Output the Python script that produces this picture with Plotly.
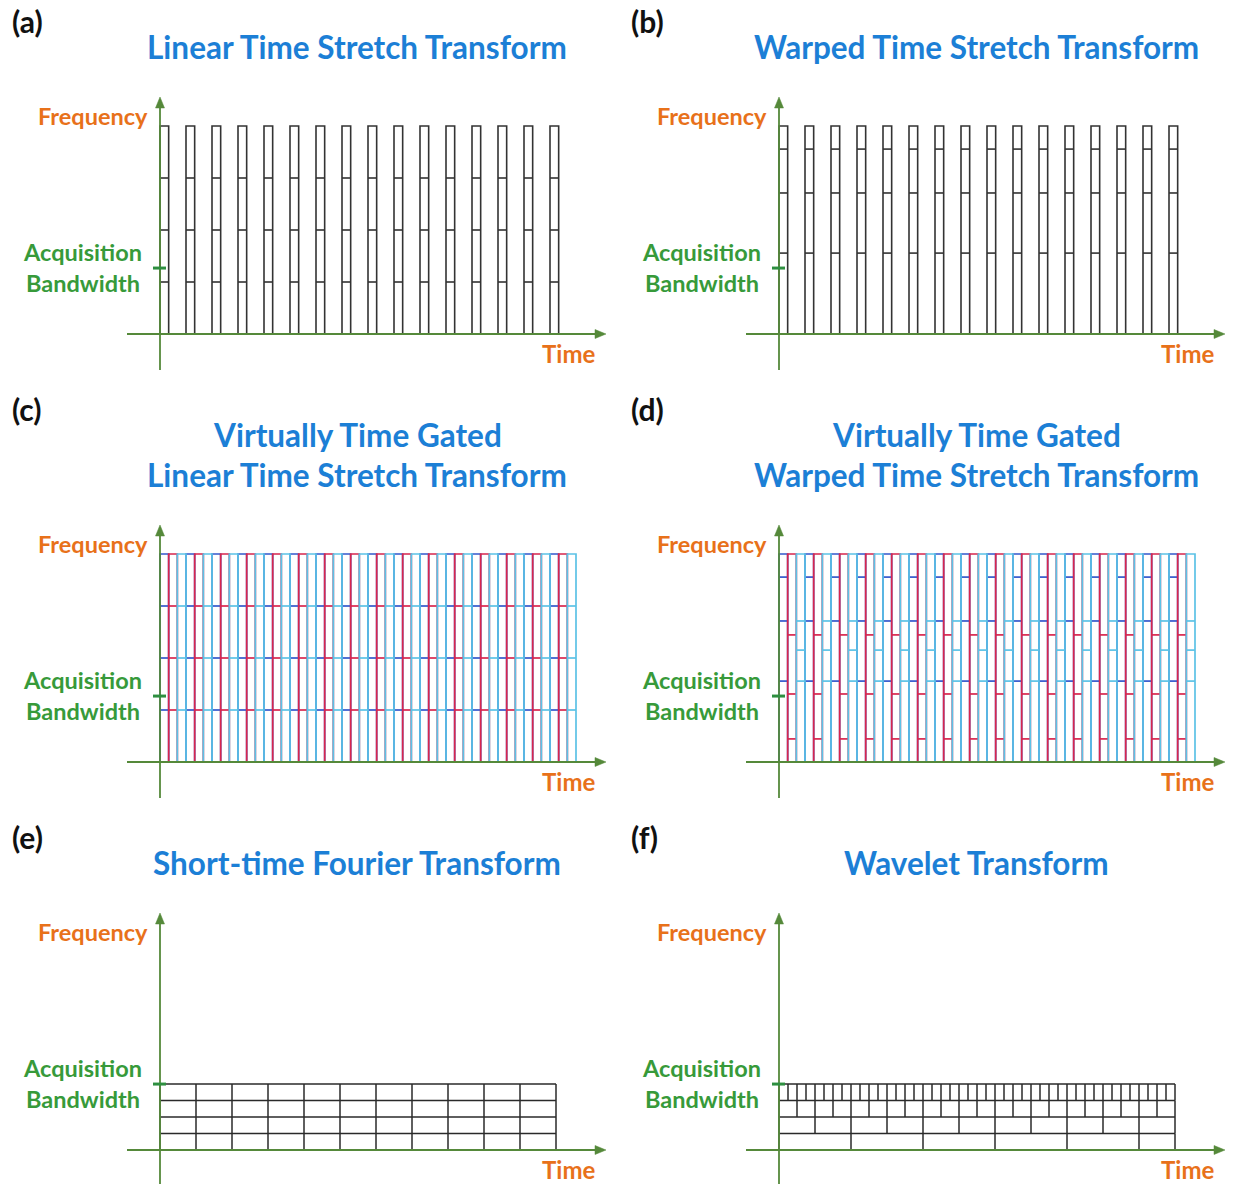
import plotly.graph_objects as go

W, H = 1233, 1184

# ---------------- data ----------------
pulse_index = list(range(16))            # stretched pulses (time, in pulse periods)
pulse_duty = 1 / 3                       # pulse duration / period
freq_top = 1.0                           # stretched bandwidth (normalised)
acq_bw = 0.317                           # acquisition bandwidth (normalised)
linear_bins = [0.25, 0.5, 0.75]          # linear TS frequency bin edges
warped_bins = [0.389, 0.678, 0.889]      # warped TS bin edges
warped_bins_mirror = [0.111, 0.327, 0.611]
warped_bins_mid = [0.389, 0.538, 0.678]
gate_offsets = [0, 1 / 3, 2 / 3]         # virtual time-gate offsets (periods)
gate_colors = ["#3358cc", "#d8264e", "#5cc2e6"]
stft_windows = 11
stft_freq_bins = 4
wavelet_widths = [2, 1, 0.5, 0.25]       # window width per scale row (bottom -> top)

titles = {
    "a": "Linear Time Stretch Transform",
    "b": "Warped Time Stretch Transform",
    "c": "Virtually Time Gated<br>Linear Time Stretch Transform",
    "d": "Virtually Time Gated<br>Warped Time Stretch Transform",
    "e": "Short-time Fourier Transform",
    "f": "Wavelet Transform",
}

# ---------------- layout geometry (pixels) ----------------
panels = {
    "a": dict(ox=160, oy=334, sx=26), "b": dict(ox=779, oy=334, sx=26),
    "c": dict(ox=160, oy=762, sx=26), "d": dict(ox=779, oy=762, sx=26),
    "e": dict(ox=160, oy=1150, sx=36), "f": dict(ox=779, oy=1150, sx=36),
}
SY = 208  # pixels per unit frequency

TITLE_BLUE = "#1c7fd6"
ORANGE = "#e8711a"
GREEN_TXT = "#379a3a"
AXIS_GREEN = "#55893a"
TICK_GREEN = "#2e8f40"
FONT = "Lato"

fig = go.Figure()


def rect_path(xs, ys, x0, x1, top, dividers):
    xs += [x0, x0, x1, x1, x0, None]
    ys += [0, top, top, 0, 0, None]
    for d in dividers:
        xs += [x0, x1, None]
        ys += [d, d, None]


def add_lines(xs, ys, color, i, width=1.5):
    fig.add_trace(go.Scatter(x=xs, y=ys, mode="lines", line=dict(color=color, width=width),
                             xaxis=f"x{i}", yaxis=f"y{i}", hoverinfo="skip", showlegend=False))


def ann(text, px, py, size, color, xanchor="center"):
    fig.add_annotation(text=text, x=px / W, y=1 - py / H, xref="paper", yref="paper",
                       showarrow=False, xanchor=xanchor, yanchor="middle",
                       font=dict(family=FONT, size=size, color=color, weight="bold"))


keys = list(panels.keys())
for i, k in enumerate(keys, start=1):
    p = panels[k]
    ox, oy, sx = p["ox"], p["oy"], p["sx"]
    below = min(40, H - oy)
    dx0, dx1 = ox - 155, ox + 450
    dy0, dy1 = oy - 250, oy + below
    fig.layout[f"xaxis{i}"] = dict(domain=[dx0 / W, dx1 / W], range=[-155 / sx, 450 / sx],
                                   visible=False, anchor=f"y{i}", fixedrange=True)
    fig.layout[f"yaxis{i}"] = dict(domain=[1 - dy1 / H, 1 - dy0 / H], range=[-below / SY, 250 / SY],
                                   visible=False, anchor=f"x{i}", fixedrange=True)

    # marks
    if k in ("a", "b"):
        xs, ys = [], []
        bins = linear_bins if k == "a" else warped_bins
        for t in pulse_index:
            rect_path(xs, ys, t, t + pulse_duty, freq_top, bins)
        add_lines(xs, ys, "#333333", i, width=1.6)
    elif k in ("c", "d"):
        if k == "c":
            bin_sets = [linear_bins, linear_bins, linear_bins]
        else:
            bin_sets = [warped_bins, warped_bins_mirror, warped_bins_mid]
        for off, col, bins in zip(gate_offsets, gate_colors, bin_sets):
            xs, ys = [], []
            for t in pulse_index:
                rect_path(xs, ys, t + off, t + off + pulse_duty, freq_top, bins)
            add_lines(xs, ys, col, i, width=1.7)
    elif k == "e":
        xs, ys = [], []
        for w in range(stft_windows + 1):
            xs += [w, w, None]
            ys += [0, acq_bw, None]
        for b in range(stft_freq_bins + 1):
            xs += [0, stft_windows, None]
            ys += [b * acq_bw / stft_freq_bins] * 2 + [None]
        add_lines(xs, ys, "#2a2a2a", i, width=1.5)
    else:
        xs, ys = [], []
        nrow = len(wavelet_widths)
        for r, wdt in enumerate(wavelet_widths):
            y0, y1 = r * acq_bw / nrow, (r + 1) * acq_bw / nrow
            edges = []
            t = 0.0
            while t < stft_windows - 1e-9:
                edges.append(t)
                t += wdt
            edges.append(stft_windows)
            for e in edges:
                xs += [e, e, None]
                ys += [y0, y1, None]
        for b in range(nrow + 1):
            xs += [0, stft_windows, None]
            ys += [b * acq_bw / nrow] * 2 + [None]
        add_lines(xs, ys, "#2a2a2a", i, width=1.5)

    xr, yr = f"x{i}", f"y{i}"
    # axis lines
    fig.add_shape(type="line", xref=xr, yref=yr, xsizemode="pixel", xanchor=0,
                  x0=-33, x1=440, y0=0, y1=0, line=dict(color=AXIS_GREEN, width=1.8), layer="above")
    fig.add_shape(type="line", xref=xr, yref=yr, ysizemode="pixel", yanchor=0,
                  y0=-36, y1=230, x0=0, x1=0, line=dict(color=AXIS_GREEN, width=1.8), layer="above")
    # arrow heads
    fig.add_shape(type="path", xref=xr, yref=yr, xsizemode="pixel", ysizemode="pixel",
                  xanchor=0, yanchor=0, path="M 435,-4.5 L 446,0 L 435,4.5 Z",
                  fillcolor=AXIS_GREEN, line=dict(color=AXIS_GREEN, width=0.5), layer="above")
    fig.add_shape(type="path", xref=xr, yref=yr, xsizemode="pixel", ysizemode="pixel",
                  xanchor=0, yanchor=0, path="M -4.5,226 L 0,237 L 4.5,226 Z",
                  fillcolor=AXIS_GREEN, line=dict(color=AXIS_GREEN, width=0.5), layer="above")
    # acquisition bandwidth tick
    fig.add_shape(type="line", xref=xr, yref=yr, xsizemode="pixel", xanchor=0,
                  x0=-7, x1=6, y0=acq_bw, y1=acq_bw, line=dict(color=TICK_GREEN, width=3), layer="above")

    # texts (paper coordinates from pixel positions)
    row_dy = 0 if k in "ab" else (388 if k in "cd" else 816)
    ann(f"({k})", ox - 150, 21 + row_dy, 30, "#111111", "left")
    if k in ("c", "d"):
        l1, l2 = titles[k].split("<br>")
        ann(l1, ox + 197, 435, 31.5, TITLE_BLUE)
        ann(l2, ox + 197, 475, 31.5, TITLE_BLUE)
    else:
        ty = 47 if k in "ab" else 863
        ann(titles[k], ox + 197, ty, 31.5, TITLE_BLUE)
    ann("Frequency", ox - 10, oy - 218, 23.5, ORANGE, "right")
    ann("Acquisition", ox - 78, oy - 82, 23.5, GREEN_TXT)
    ann("Bandwidth", ox - 77, oy - 51, 23.5, GREEN_TXT)
    ann("Time", ox + 408, oy + 19, 24, ORANGE)

fig.update_layout(width=W, height=H, margin=dict(l=0, r=0, t=0, b=0),
                  paper_bgcolor="white", plot_bgcolor="rgba(0,0,0,0)", showlegend=False)

fig.write_html("out.html")
